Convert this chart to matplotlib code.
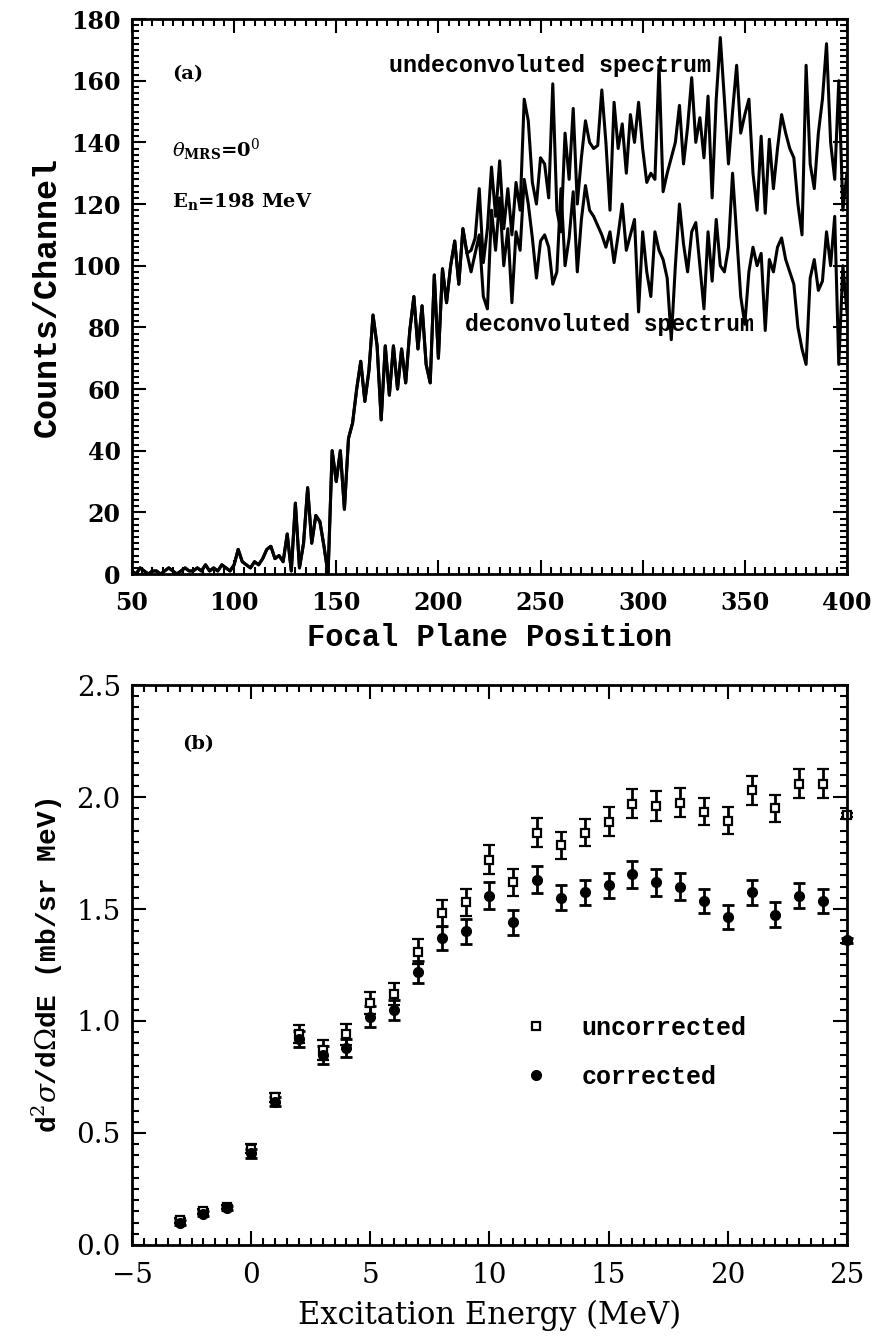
import numpy as np
import matplotlib
matplotlib.use("Agg")
import matplotlib.pyplot as plt
from matplotlib.ticker import MultipleLocator
from matplotlib.lines import Line2D

plt.rcParams['font.family'] = ['DejaVu Serif']
plt.rcParams['mathtext.fontset'] = 'dejavuserif'

# ---- panel (a): spectra, every 2nd channel ----
channels = np.arange(50, 401, 2)

# below channel ~215 both spectra lie on top of each other
low_counts = [1, 0, 2, 1, 0, 1, 1, 0, 1, 2, 1, 0, 1, 2, 1, 1, 2, 1, 3, 1, 2, 1, 3, 2, 1,
              3, 8, 4, 3, 2, 4, 3, 5, 8, 9, 5, 6, 4, 13, 1, 23, 2, 10, 28, 10, 19, 17, 9, 0, 40,
              30, 40, 21, 44, 49, 60, 69, 56, 66, 84, 74, 50, 74, 58, 74, 60, 73, 62, 79, 90,
              73, 87, 68, 62, 97, 70, 99, 88, 100, 108, 94, 112, 104]

undeconv_high = [105, 109, 125, 101, 112, 132, 116, 134, 112, 125,
                 110, 127, 118, 154, 147, 127, 120, 135, 133, 122,
                 159, 118, 111, 143, 128, 151, 120, 135, 147, 140,
                 138, 139, 157, 140, 118, 153, 138, 146, 130, 149,
                 140, 153, 138, 127, 130, 128, 165, 124, 130, 135,
                 140, 152, 133, 145, 161, 140, 148, 135, 155, 122,
                 154, 174, 154, 133, 150, 165, 143, 149, 154, 130,
                 118, 142, 117, 141, 125, 138, 149, 143, 138, 135,
                 120, 110, 165, 133, 125, 143, 154, 172, 140, 128,
                 160, 118, 130]

deconv_high = [98, 104, 110, 90, 86, 118, 105, 122, 100, 112,
               88, 111, 105, 128, 120, 109, 96, 108, 110, 106,
               94, 98, 125, 100, 109, 124, 98, 115, 126, 118,
               116, 113, 110, 106, 111, 101, 110, 120, 105, 110,
               115, 85, 111, 98, 90, 111, 105, 102, 96, 76,
               100, 120, 107, 98, 111, 114, 100, 86, 111, 95,
               115, 100, 98, 106, 130, 110, 90, 81, 98, 106,
               100, 104, 79, 102, 98, 106, 109, 102, 98, 94,
               80, 73, 68, 96, 102, 92, 95, 111, 100, 116,
               68, 100, 85]

undeconv = low_counts + undeconv_high
deconv = low_counts + deconv_high

# ---- panel (b): cross sections ----
energy = np.arange(-3, 26)
uncorrected = [0.11, 0.15, 0.17, 0.43, 0.66, 0.94, 0.87, 0.94, 1.08, 1.12, 1.31, 1.48, 1.53,
               1.72, 1.62, 1.84, 1.785, 1.84, 1.89, 1.97, 1.96, 1.975, 1.935, 1.895, 2.03,
               1.95, 2.06, 2.06, 1.92]
uncorrected_err = [0.01, 0.01, 0.01, 0.02, 0.02, 0.04, 0.045, 0.045, 0.05, 0.05, 0.055, 0.06,
                   0.06, 0.065, 0.06, 0.065, 0.06, 0.06, 0.065, 0.065, 0.065, 0.065, 0.06,
                   0.06, 0.065, 0.06, 0.065, 0.065, 0.01]
corrected = [0.10, 0.14, 0.165, 0.41, 0.64, 0.92, 0.85, 0.88, 1.02, 1.05, 1.22, 1.37, 1.40,
             1.56, 1.44, 1.63, 1.55, 1.575, 1.605, 1.655, 1.62, 1.60, 1.535, 1.465, 1.575,
             1.475, 1.56, 1.535, 1.36]
corrected_err = [0.01, 0.01, 0.01, 0.02, 0.02, 0.035, 0.04, 0.04, 0.045, 0.045, 0.05, 0.055,
                 0.055, 0.06, 0.055, 0.06, 0.055, 0.055, 0.055, 0.06, 0.06, 0.06, 0.055,
                 0.055, 0.055, 0.055, 0.055, 0.055, 0.01]

fig = plt.figure(figsize=(8.71, 13.40), dpi=100)
ax1 = fig.add_axes([0.1515, 0.5716, 0.8209, 0.4142])
ax2 = fig.add_axes([0.1515, 0.0709, 0.8209, 0.4179])

mono = dict(family='Liberation Mono', fontweight='bold')

ax1.plot(channels, undeconv, color='black', lw=2.2)
ax1.plot(channels, deconv, color='black', lw=2.2)
ax1.set_xlim(50, 400)
ax1.set_ylim(0, 180)
ax1.xaxis.set_major_locator(MultipleLocator(50))
ax1.xaxis.set_minor_locator(MultipleLocator(5))
ax1.yaxis.set_major_locator(MultipleLocator(20))
ax1.yaxis.set_minor_locator(MultipleLocator(2))
ax1.set_xlabel('Focal Plane Position', fontsize=22, labelpad=6, **mono)
ax1.set_ylabel('Counts/Channel', fontsize=24, labelpad=6, **mono)

ax1.text(0.359, 0.916, 'undeconvoluted spectrum', transform=ax1.transAxes, va='center',
         fontsize=16.8, **mono)
ax1.text(0.466, 0.45, 'deconvoluted spectrum', transform=ax1.transAxes, va='center',
         fontsize=16.6, **mono)
ax1.text(0.056, 0.90, '(a)', transform=ax1.transAxes, va='center', fontsize=14, fontweight='bold')
ax1.text(0.056, 0.765, r'$\theta_{\mathbf{MRS}}$=0$^0$', transform=ax1.transAxes,
         va='center', fontsize=14, fontweight='bold')
ax1.text(0.056, 0.672, r'E$_{\mathbf{n}}$=198 MeV', transform=ax1.transAxes,
         va='center', fontsize=14, fontweight='bold')

ax2.errorbar(energy, uncorrected, yerr=uncorrected_err, fmt='s', ms=6, mfc='white',
             mec='black', mew=1.6, ecolor='black', elinewidth=2, capsize=4, capthick=2,
             clip_on=False)
ax2.errorbar(energy, corrected, yerr=corrected_err, fmt='o', ms=7, mfc='black',
             mec='black', ecolor='black', elinewidth=2, capsize=4, capthick=2,
             clip_on=False)
ax2.set_xlim(-5, 25)
ax2.set_ylim(0, 2.5)
ax2.xaxis.set_major_locator(MultipleLocator(5))
ax2.xaxis.set_minor_locator(MultipleLocator(0.5))
ax2.yaxis.set_major_locator(MultipleLocator(0.5))
ax2.yaxis.set_minor_locator(MultipleLocator(0.05))
ax2.set_xlabel('Excitation Energy (MeV)', fontsize=22, labelpad=8)
ax2.set_ylabel(r'd$^2\sigma$/d$\Omega$dE (mb/sr MeV)', fontsize=20, labelpad=8, **mono)
ax2.text(0.07, 0.895, '(b)', transform=ax2.transAxes, va='center', fontsize=14, fontweight='bold')

handles = [Line2D([], [], ls='none', marker='s', ms=6, mfc='white', mec='black', mew=1.6),
           Line2D([], [], ls='none', marker='o', ms=7, mfc='black', mec='black')]
ax2.legend(handles, ['uncorrected', 'corrected'], loc='upper left',
           bbox_to_anchor=(0.499, 0.45), frameon=False,
           handletextpad=0.8, labelspacing=1.0,
           prop={'family': 'Liberation Mono', 'weight': 'bold', 'size': 18})

for ax in (ax1, ax2):
    ax.tick_params(which='both', direction='in', top=True, right=True, width=1.5)
    ax.tick_params(which='major', length=10, pad=8)
    ax.tick_params(which='minor', length=5)
    ax.tick_params(axis='x', which='major', pad=12)
    for s in ax.spines.values():
        s.set_linewidth(2)
ax1.tick_params(labelsize=17)
ax2.tick_params(labelsize=20)
for lab in ax1.get_xticklabels() + ax1.get_yticklabels():
    lab.set_fontweight('bold')

ax2.set_yticklabels(['%.1f' % v for v in ax2.get_yticks()])

fig.savefig('out.png', dpi=100)
